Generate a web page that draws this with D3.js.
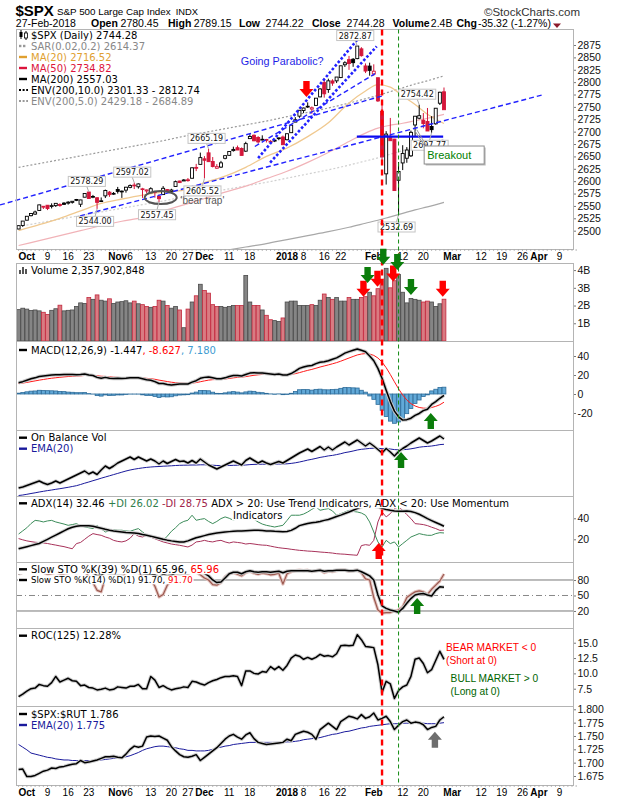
<!DOCTYPE html>
<html>
<head>
<meta charset="utf-8">
<title>$SPX</title>
<script src="https://d3js.org/d3.v7.min.js"></script>
<style>
  body { margin: 0; background: #fff; }
  text { white-space: pre; }
</style>
</head>
<body>
<div id="chart"></div>
<script>
const WIDTH = 620
const HEIGHT = 800
const LEFT = 16      // bord gauche des panneaux
const RIGHT = 573    // bord droit, libellés d'axe à droite
const X0 = 18.6      // centre de la première séance
const STEP = 4.13    // largeur d'une séance
const RED = '#d4163a'

// séances affichées
const DAYS = `2017-09-28 2017-09-29 2017-10-02 2017-10-03 2017-10-04 2017-10-05 2017-10-06
2017-10-09 2017-10-10 2017-10-11 2017-10-12 2017-10-13 2017-10-16 2017-10-17 2017-10-18 2017-10-19 2017-10-20
2017-10-23 2017-10-24 2017-10-25 2017-10-26 2017-10-27 2017-10-30 2017-10-31 2017-11-01 2017-11-02 2017-11-03
2017-11-06 2017-11-07 2017-11-08 2017-11-09 2017-11-10 2017-11-13 2017-11-14 2017-11-15 2017-11-16 2017-11-17
2017-11-20 2017-11-21 2017-11-22 2017-11-24 2017-11-27 2017-11-28 2017-11-29 2017-11-30 2017-12-01
2017-12-04 2017-12-05 2017-12-06 2017-12-07 2017-12-08 2017-12-11 2017-12-12 2017-12-13 2017-12-14 2017-12-15
2017-12-18 2017-12-19 2017-12-20 2017-12-21 2017-12-22 2017-12-26 2017-12-27 2017-12-28 2017-12-29
2018-01-02 2018-01-03 2018-01-04 2018-01-05 2018-01-08 2018-01-09 2018-01-10 2018-01-11 2018-01-12
2018-01-16 2018-01-17 2018-01-18 2018-01-19 2018-01-22 2018-01-23 2018-01-24 2018-01-25 2018-01-26
2018-01-29 2018-01-30 2018-01-31 2018-02-01 2018-02-02 2018-02-05 2018-02-06 2018-02-07 2018-02-08 2018-02-09
2018-02-12 2018-02-13 2018-02-14 2018-02-15 2018-02-16 2018-02-20 2018-02-21 2018-02-22 2018-02-23
2018-02-26 2018-02-27`.trim().split(/\s+/)
// séances vides à droite de l'axe
const FUTURE_DAYS = `2018-02-28 2018-03-01 2018-03-02 2018-03-05 2018-03-06 2018-03-07 2018-03-08 2018-03-09
2018-03-12 2018-03-13 2018-03-14 2018-03-15 2018-03-16 2018-03-19 2018-03-20 2018-03-21 2018-03-22 2018-03-23
2018-03-26 2018-03-27 2018-03-28 2018-03-29 2018-04-02 2018-04-03 2018-04-04 2018-04-05 2018-04-06
2018-04-09 2018-04-10 2018-04-11 2018-04-12 2018-04-13`.trim().split(/\s+/)

const PREV_CLOSE = 2507.04
const OPEN = [
  2503.4, 2510.4, 2521.2, 2530.3, 2533.5, 2540.9, 2547.4, 2551.4, 2550.0, 2550.6,
  2552.9, 2555.7, 2555.6, 2557.2, 2562.9, 2553.4, 2567.6, 2578.1, 2568.7, 2566.5,
  2560.1, 2570.3, 2577.8, 2575.0, 2583.2, 2579.5, 2581.9, 2587.5, 2592.1, 2588.7,
  2584.0, 2580.2, 2576.5, 2577.8, 2569.4, 2572.9, 2582.9, 2579.5, 2589.2, 2600.3,
  2600.4, 2602.7, 2605.9, 2627.8, 2633.9, 2645.1, 2657.2, 2639.8, 2626.2, 2628.4,
  2646.2, 2652.2, 2661.7, 2667.6, 2665.9, 2660.6, 2685.9, 2692.7, 2688.2, 2683.0,
  2684.2, 2679.1, 2682.1, 2686.1, 2689.2, 2683.7, 2697.9, 2719.3, 2731.3, 2742.7,
  2751.2, 2745.6, 2753.0, 2770.2, 2799.0, 2785.0, 2802.4, 2802.6, 2809.2, 2835.1,
  2845.4, 2846.2, 2847.5, 2867.2, 2832.7, 2832.4, 2816.5, 2808.9, 2741.1, 2614.8,
  2691.0, 2685.0, 2601.8, 2636.8, 2646.3, 2651.2, 2713.5, 2727.1, 2723.0, 2720.5,
  2710.4, 2715.8, 2757.4, 2780.45]
const HIGH = [
  2510.8, 2519.4, 2529.2, 2535.1, 2540.5, 2552.5, 2549.4, 2551.8, 2555.2, 2555.2,
  2555.3, 2557.6, 2559.5, 2559.7, 2564.1, 2562.4, 2575.4, 2578.3, 2572.2, 2567.4,
  2567.1, 2583.0, 2580.0, 2578.1, 2588.4, 2581.1, 2588.4, 2593.4, 2597.0, 2595.5,
  2586.5, 2583.0, 2587.7, 2579.7, 2572.8, 2590.1, 2584.0, 2584.6, 2601.2, 2600.9,
  2604.2, 2606.4, 2627.7, 2634.9, 2657.7, 2650.6, 2665.2, 2648.7, 2634.4, 2641.0,
  2651.7, 2660.3, 2669.7, 2671.9, 2668.1, 2679.6, 2695.0, 2694.4, 2691.0, 2692.6,
  2685.4, 2682.7, 2685.6, 2687.7, 2692.1, 2695.9, 2714.4, 2729.3, 2743.5, 2748.5,
  2759.1, 2750.8, 2767.6, 2787.9, 2807.5, 2807.0, 2805.8, 2810.3, 2833.0, 2842.2,
  2853.0, 2848.6, 2872.9, 2870.6, 2837.8, 2839.3, 2836.0, 2808.9, 2763.4, 2701.0,
  2727.7, 2685.3, 2638.7, 2672.6, 2668.8, 2702.1, 2731.5, 2754.4, 2737.6, 2747.8,
  2731.3, 2747.8, 2780.6, 2789.15]
const LOW = [
  2502.9, 2507.7, 2520.4, 2528.9, 2531.8, 2540.0, 2543.8, 2541.6, 2544.9, 2547.9,
  2548.3, 2552.1, 2552.6, 2554.7, 2559.7, 2547.9, 2567.6, 2564.3, 2565.6, 2544.0,
  2559.8, 2565.9, 2568.3, 2572.0, 2574.9, 2566.2, 2576.8, 2585.7, 2584.1, 2585.0,
  2566.3, 2575.6, 2576.5, 2566.6, 2557.45, 2572.9, 2577.6, 2578.2, 2589.2, 2596.2,
  2600.4, 2598.9, 2605.4, 2620.3, 2633.9, 2605.5, 2639.0, 2627.7, 2624.8, 2626.5,
  2644.1, 2651.5, 2659.8, 2662.9, 2652.0, 2659.1, 2685.9, 2680.7, 2676.1, 2682.4,
  2678.1, 2678.0, 2678.9, 2682.7, 2673.6, 2682.4, 2697.8, 2719.1, 2727.9, 2737.6,
  2747.9, 2736.1, 2752.8, 2769.6, 2768.6, 2778.4, 2792.6, 2798.1, 2808.1, 2830.6,
  2824.8, 2830.9, 2846.2, 2851.5, 2818.3, 2813.0, 2812.7, 2760.0, 2638.2, 2593.1,
  2681.3, 2580.6, 2532.7, 2622.4, 2637.1, 2648.9, 2689.8, 2725.1, 2706.8, 2701.3,
  2697.8, 2714.0, 2753.8, 2744.2]
const CLOSE = [
  2510.1, 2519.4, 2529.1, 2534.6, 2537.7, 2552.1, 2549.3, 2544.7, 2550.6, 2555.2,
  2550.9, 2553.2, 2557.6, 2559.4, 2561.3, 2562.1, 2575.2, 2565.0, 2569.1, 2557.2,
  2560.4, 2581.1, 2572.8, 2575.3, 2579.4, 2579.9, 2587.8, 2591.1, 2590.6, 2594.4,
  2584.6, 2582.3, 2584.8, 2578.9, 2564.6, 2585.6, 2578.9, 2582.1, 2599.0, 2597.1,
  2602.4, 2601.4, 2627.0, 2626.1, 2647.6, 2642.2, 2639.4, 2629.6, 2629.3, 2637.0,
  2651.5, 2660.0, 2664.1, 2662.9, 2652.0, 2675.8, 2690.2, 2681.5, 2679.3, 2684.6,
  2683.3, 2680.5, 2682.6, 2687.5, 2673.6, 2695.8, 2713.1, 2724.0, 2743.2, 2747.7,
  2751.3, 2748.2, 2767.6, 2786.2, 2776.4, 2802.6, 2798.0, 2810.3, 2833.0, 2839.1,
  2837.5, 2839.3, 2872.9, 2853.5, 2822.4, 2823.8, 2822.0, 2762.1, 2648.9, 2695.1,
  2681.7, 2581.0, 2619.6, 2656.0, 2662.9, 2698.6, 2731.2, 2732.2, 2716.3, 2701.3,
  2704.0, 2747.3, 2779.6, 2744.28]
// volume en milliards
const VOLUME = [
  1.77, 1.85, 1.80, 1.72, 1.75, 1.70, 1.62, 1.50, 1.73, 1.82,
  2.02, 1.70, 1.73, 1.75, 1.95, 2.15, 2.12, 2.45, 2.35, 2.60,
  2.30, 2.25, 2.38, 2.12, 2.20, 2.22, 2.27, 2.15, 2.25, 2.10,
  2.05, 1.95, 1.90, 1.95, 2.30, 2.25, 2.00, 1.85, 1.95, 1.75,
  0.75, 1.80, 2.20, 2.55, 3.20, 2.85, 2.70, 2.05, 1.95, 1.95,
  1.90, 1.95, 2.00, 2.00, 2.00, 3.70, 2.20, 2.00, 2.00, 1.75,
  1.45, 1.20, 1.15, 1.10, 1.30, 2.20, 2.25, 2.25, 2.00, 2.00,
  2.00, 2.05, 2.00, 2.30, 2.65, 2.45, 2.35, 2.45, 2.25, 2.25,
  2.45, 2.35, 2.35, 2.45, 2.50, 2.75, 2.55, 2.95, 3.40, 4.10,
  3.00, 3.40, 3.75, 2.75, 2.15, 2.40, 2.35, 2.30, 2.20, 2.25,
  2.20, 1.95, 2.10, 2.358]

// moyennes mobiles et enveloppes, lues toutes les quelques séances
const OV_IDX = [0, 5, 10, 15, 20, 25, 30, 35, 40, 45, 50, 55, 60, 65, 70, 75, 80, 84, 87, 90, 93, 96, 99, 103]
const MA20 = [2500, 2512, 2525, 2540, 2555, 2564, 2572, 2578, 2582, 2597, 2610, 2628, 2650, 2667, 2690, 2718, 2758, 2782, 2795, 2790, 2772, 2755, 2735, 2716.52]
const MA50 = [2470, 2480, 2490, 2500, 2510, 2519, 2527, 2540, 2552, 2565, 2578, 2590, 2605, 2620, 2638, 2658, 2680, 2697, 2707, 2713, 2717, 2722, 2727, 2734.82]
const MA200 = [2389, 2396, 2403, 2410, 2417, 2424, 2431, 2438, 2446, 2453, 2460, 2467, 2474, 2482, 2490, 2498, 2507, 2515, 2521, 2528, 2535, 2542, 2548, 2557.03]
const ENV10_UP = [2627.9, 2635.6, 2643.3, 2651, 2658.7, 2666.4, 2674.1, 2681.8, 2690.6, 2698.3, 2706, 2713.7, 2721.4, 2730.2, 2739, 2747.8, 2757.7, 2766.5, 2773.1, 2780.8, 2788.5, 2796.2, 2802.8, 2812.74]
const ENV5_UP = [2508.5, 2515.8, 2523.2, 2530.5, 2537.9, 2545.2, 2552.6, 2559.9, 2568.3, 2575.7, 2583, 2590.4, 2597.7, 2606.1, 2614.5, 2622.9, 2632.4, 2640.8, 2647.1, 2654.4, 2661.8, 2669.1, 2675.4, 2684.89]

const MACD = [
  11.9, 13, 14.5, 16, 17, 18.5, 19, 19.5, 20, 20.3,
  20.3, 20.5, 20.4, 20.5, 20.3, 20.5, 21, 20, 19.5, 17.5,
  16.5, 17.5, 16.5, 16.3, 16.5, 16.3, 16.6, 17, 17, 17,
  16, 15, 14.5, 13, 11, 11, 10, 9.5, 10, 10.5,
  10.5, 10.5, 12.5, 14, 16.5, 17.5, 18, 17, 16, 16,
  17, 18.5, 19.5, 19.5, 19, 20.5, 22, 22.5, 22, 22,
  21.5, 21, 20.5, 21, 20, 20, 21.5, 24, 27, 28.5,
  29.5, 30, 32, 33.5, 34, 35, 36.5, 38, 40.5, 43,
  44.6, 46, 47.4, 46, 44.5, 40, 35, 27, 16.5, 4,
  -8, -18, -24, -27.5, -27, -25.5, -22.5, -20.5, -17.5, -16,
  -11, -8, -4.5, -1.447]
const SIGNAL = [
  11, 11.5, 12.2, 13, 13.8, 14.6, 15.3, 16, 16.6, 17.1,
  17.6, 18, 18.4, 18.7, 18.9, 19.1, 19.5, 19.6, 19.6, 19.2,
  18.7, 18.5, 18.1, 17.7, 17.5, 17.3, 17.2, 17.1, 17.1, 17.1,
  16.9, 16.5, 16.1, 15.5, 14.6, 13.9, 13.1, 12.4, 11.9, 11.6,
  11.4, 11.2, 11.5, 12, 12.9, 13.8, 14.6, 15.1, 15.3, 15.4,
  15.8, 16.4, 17, 17.5, 17.8, 18.3, 19, 19.7, 20.2, 20.6,
  20.8, 20.9, 20.8, 20.9, 20.7, 20.56, 20.75, 21.4, 22.52, 23.72,
  24.88, 25.9, 27.12, 28.4, 29.52, 30.62, 31.8, 33.04, 34.53, 36.22,
  37.9, 39.52, 41.1, 42.08, 42.56, 42.05, 40.64, 37.91, 33.63, 27.7,
  20.56, 12.85, 5.48, -1.12, -6.3, -10.14, -12.61, -14.19, -14.85, -15.08,
  -14.26, -13.01, -11.3, -8.627]
const HIST = [
  0.9, 1.5, 2.3, 3, 3.2, 3.9, 3.7, 3.5, 3.4, 3.2,
  2.7, 2.5, 2, 1.8, 1.4, 1.4, 1.5, 0.4, -0.1, -1.7,
  -2.2, -1, -1.6, -1.4, -1, -1, -0.6, -0.1, -0.1, -0.1,
  -0.9, -1.5, -1.6, -2.5, -3.6, -2.9, -3.1, -2.9, -1.9, -1.1,
  -0.9, -0.7, 1, 2, 3.6, 3.7, 3.4, 1.9, 0.7, 0.6,
  1.2, 2.1, 2.5, 2, 1.2, 2.2, 3, 2.8, 1.8, 1.4,
  0.7, 0.1, -0.3, 0.1, -0.7, -0.56, 0.75, 2.6, 4.48, 4.78,
  4.62, 4.1, 4.88, 5.1, 4.48, 4.38, 4.7, 4.96, 5.97, 6.78,
  6.7, 6.48, 6.3, 3.92, 1.94, -2.05, -5.64, -10.91, -17.13, -23.7,
  -28.56, -30.85, -29.48, -26.38, -20.7, -15.36, -9.89, -6.31, -2.65, -0.92,
  3.26, 5.01, 6.8, 7.18]
// on balance volume (milliards, origine arbitraire)
const OBV = [
  6, 6.5, 7.25, 8, 8.75, 9.5, 8.5, 7.75, 8.5, 9.5,
  8.5, 9.5, 10.5, 11.5, 12.5, 13.5, 14.5, 13, 14, 12.75,
  15, 17, 15.75, 17, 18.5, 19.5, 20.5, 21.5, 20.25, 21.5,
  20.5, 19.5, 20.5, 19.5, 18, 19.5, 18.25, 19.25, 20.25, 19.25,
  19.5, 18.5, 19.75, 18.5, 20.5, 19, 17.5, 16.5, 15.5, 16.5,
  17.5, 18.5, 19.5, 18.5, 17.5, 19.75, 21, 19.75, 18.5, 19.5,
  18.5, 17.75, 18.5, 19.25, 18.5, 19.75, 21, 22.25, 23.5, 24.5,
  25.5, 24.25, 25.5, 26.75, 25, 26.5, 25, 26.5, 27.75, 29,
  27.5, 28.75, 30, 28.5, 27, 28.5, 27, 25.25, 23.5, 25.75,
  24, 22, 24.25, 25.75, 27, 28.5, 29.75, 31, 29.75, 28.5,
  29.5, 30.75, 32, 30.5]
const OBV_EMA = [
  2.25, 2.5, 2.85, 3.25, 3.6, 4, 4.35, 4.7, 5, 5.35,
  5.65, 6, 6.35, 6.75, 7.15, 7.75, 8.4, 9, 9.65, 10.25,
  10.9, 11.5, 12.1, 12.7, 13.3, 13.9, 14.5, 15, 15.4, 15.75,
  16.05, 16.3, 16.5, 16.65, 16.75, 16.9, 17, 17.1, 17.25, 17.35,
  17.4, 17.45, 17.5, 17.5, 17.6, 17.6, 17.5, 17.4, 17.25, 17.2,
  17.2, 17.25, 17.35, 17.4, 17.4, 17.5, 17.7, 17.8, 17.85, 17.9,
  17.9, 17.9, 17.9, 18, 18, 18.1, 18.3, 18.6, 19, 19.45,
  19.95, 20.35, 20.8, 21.3, 21.65, 22.05, 22.3, 22.7, 23.15, 23.7,
  24.05, 24.5, 25, 25.35, 25.55, 25.8, 25.9, 25.85, 25.65, 25.7,
  25.5, 25.2, 25.1, 25.15, 25.3, 25.6, 25.95, 26.4, 26.65, 26.8,
  27, 27.3, 27.7, 27.85]
const ADX = [
  11, 12, 13, 14, 15, 16, 18, 20, 22, 24,
  26, 28, 30, 31.5, 32.5, 33, 33, 33, 32.5, 31.5,
  30.5, 29.5, 28.6, 28, 27.5, 27, 26.5, 26.3, 26, 25.5,
  24.5, 23.8, 23, 22, 21, 20, 19.2, 18.5, 18, 17.5,
  17.4, 18.5, 20, 21.5, 22.5, 23.5, 24.5, 25.3, 26, 26.5,
  27, 27.3, 27.6, 27.8, 28, 28.2, 28.4, 28.5, 28.5, 28.3,
  28, 27.8, 27.6, 27.5, 27.3, 27.5, 28.5, 30.5, 33, 34,
  35, 35.7, 36.2, 37, 38, 38.8, 40.2, 41.7, 43, 44.5,
  46, 47.6, 49.2, 50.8, 52.4, 52.4, 51.5, 50.8, 49.5, 48.3,
  47.6, 47, 46.7, 46.8, 47, 46.5, 45.4, 43.8, 41.8, 39.7,
  37.8, 36, 34.3, 32.46]
const PLUS_DI = [
  25, 28, 31, 35, 38, 37.5, 36.5, 37.5, 38, 36.5,
  35.5, 34.5, 33.3, 34, 34.9, 33, 31.7, 31, 30.2, 33.3,
  30, 27, 28, 29, 28.6, 28.6, 28, 27.6, 29, 30.2,
  27, 24, 23, 22.2, 20.5, 19, 23, 27.6, 31, 34.9,
  37, 38.1, 42.9, 38.1, 39, 39.7, 37, 34.9, 37, 39.7,
  41.3, 40, 38.1, 40, 42.9, 41.3, 41.3, 39, 36.5, 34.5,
  33.3, 32.5, 31.7, 32.5, 33.3, 38, 42.9, 42.9, 42.9, 44,
  46, 48.5, 50.8, 47.6, 48.5, 49.2, 47, 42.9, 44.4, 46,
  47.6, 46.5, 46, 45, 42.9, 36.5, 27, 17.5, 12.7, 19,
  15.9, 17.5, 12.7, 15.9, 19, 22.2, 23.8, 25.4, 24.5, 23.8,
  23.8, 25.4, 26.3, 26.02]
const MINUS_DI = [
  20.7, 19.5, 18.5, 17.8, 17.2, 16.9, 16.5, 16, 15.2, 14.5,
  13.7, 13, 12, 11, 15.9, 17, 20, 23, 25.4, 24.5,
  23.8, 22.2, 21, 19, 18, 17.5, 18.5, 21, 25.4, 23,
  22.2, 23.8, 22, 20.5, 19, 17.5, 16.5, 15.5, 14.9, 14.3,
  13.5, 12.7, 14.5, 17.5, 18, 19, 18, 17.5, 18.5, 19,
  17.5, 16.5, 17.5, 17, 16.5, 15.5, 16, 15.5, 14.9, 14.5,
  14.3, 13.5, 12.7, 12, 11.5, 11.1, 10.5, 10, 9.5, 9.2,
  8.8, 8.6, 8.3, 7.9, 7.6, 7.3, 6.9, 6.3, 6, 5.8,
  5.4, 5.1, 4.8, 14, 14.9, 14.3, 19, 36.5, 46, 41.3,
  44.4, 49.2, 50.8, 47.6, 43.5, 39.7, 34.9, 34.5, 34, 33,
  31.5, 30.2, 28.5, 28.75]
const STO_K39 = [
  92, 95, 97, 98, 98, 99, 97, 95, 96, 97,
  96, 96, 97, 97, 97, 97, 99, 95, 95, 88,
  89, 96, 93, 93, 94, 93, 96, 97, 96, 97,
  93, 92, 92, 90, 85, 91, 88, 89, 94, 93,
  94, 94, 97, 97, 97, 93, 88, 80, 75, 76,
  84, 92, 95, 95, 92, 96, 98, 96, 95, 96,
  96, 95, 96, 97, 94, 97, 98, 98, 98, 98,
  98, 97, 98, 99, 97, 98, 98, 99, 99, 99,
  98, 98, 99, 96, 92, 88, 80, 51, 30, 25,
  22, 20, 17.5, 25, 35, 44, 51, 53, 54, 51,
  49, 60, 67, 65.96]
const STO_K14 = [
  90, 95, 97, 98, 98, 99, 95, 90, 92, 95,
  92, 92, 94, 95, 94, 95, 99, 85, 75, 60,
  57, 85, 80, 82, 86, 85, 95, 96, 94, 96,
  86, 80, 82, 68, 47, 52, 70, 80, 92, 90,
  93, 92, 97, 95, 90, 84, 80, 71, 70, 75,
  86, 92, 94, 91, 88, 94, 97, 93, 91, 93,
  92, 90, 91, 93, 72, 92, 96, 98, 99, 98,
  99, 96, 98, 99, 94, 97, 96, 98, 99, 99,
  97, 98, 99, 94, 82, 80, 46, 22, 16, 17,
  17, 20, 22, 28, 46, 52, 57, 59, 57, 52,
  62, 70, 78, 91.7]
const ROC = [
  6.2, 6.6, 7.1, 7.5, 7.6, 8.2, 8.0, 7.9, 8.5, 9.5,
  8.6, 8.9, 9.2, 8.8, 8.7, 8.0, 8.1, 7.7, 7.6, 7.3,
  7.4, 7.6, 7.3, 7.4, 7.8, 7.7, 7.6, 7.9, 7.9, 8.2,
  7.5, 7.5, 9.5, 8.9, 7.7, 8.0, 7.6, 7.3, 7.5, 7.6,
  7.8, 7.7, 8.7, 8.6, 8.3, 8.1, 8.5, 8.8, 9.0, 9.3,
  9.5, 9.5, 9.6, 9.5, 8.0, 10.4, 10.4, 10.0, 9.9, 10.3,
  10.2, 11.1, 10.6, 11.1, 10.5, 11.3, 12.5, 13.0, 12.8, 12.3,
  12.6, 12.3, 12.6, 13.1, 12.8, 12.9, 12.7, 13.2, 14.5, 14.6,
  14.5, 14.6, 16.3, 15.5, 14.4, 14.3, 14.2, 11.4, 6.9, 8.7,
  8.3, 5.9, 7.2, 7.8, 8.1, 9.5, 12.3, 12.5, 11.6, 10.1,
  10.6, 12.1, 13.6, 12.28]
const RATIO = [
  1.687, 1.688, 1.674, 1.674, 1.676, 1.680, 1.684, 1.686, 1.690, 1.689,
  1.692, 1.693, 1.695, 1.697, 1.698, 1.704, 1.700, 1.701, 1.703, 1.705,
  1.708, 1.711, 1.711, 1.712, 1.710, 1.709, 1.716, 1.725, 1.731, 1.729,
  1.731, 1.748, 1.750, 1.749, 1.750, 1.746, 1.742, 1.730, 1.722, 1.715,
  1.711, 1.710, 1.712, 1.715, 1.704, 1.710, 1.716, 1.722, 1.728, 1.736,
  1.744, 1.750, 1.753, 1.748, 1.744, 1.752, 1.756, 1.745, 1.738, 1.736,
  1.734, 1.735, 1.736, 1.737, 1.738, 1.744, 1.741, 1.753, 1.756, 1.759,
  1.757, 1.753, 1.744, 1.762, 1.768, 1.774, 1.768, 1.762, 1.777, 1.782,
  1.787, 1.785, 1.782, 1.790, 1.783, 1.786, 1.793, 1.780, 1.783, 1.787,
  1.777, 1.762, 1.770, 1.777, 1.780, 1.774, 1.776, 1.775, 1.771, 1.762,
  1.766, 1.768, 1.780, 1.786]
const RATIO_EMA = [
  1.734, 1.729, 1.724, 1.718, 1.716, 1.714, 1.712, 1.710, 1.709, 1.707,
  1.706, 1.705, 1.705, 1.704, 1.704, 1.704, 1.704, 1.704, 1.704, 1.704,
  1.705, 1.706, 1.707, 1.708, 1.709, 1.710, 1.711, 1.713, 1.716, 1.719,
  1.723, 1.726, 1.728, 1.730, 1.731, 1.731, 1.730, 1.729, 1.728, 1.726,
  1.725, 1.723, 1.723, 1.722, 1.722, 1.722, 1.723, 1.725, 1.728, 1.729,
  1.731, 1.732, 1.734, 1.735, 1.736, 1.737, 1.738, 1.738, 1.738, 1.738,
  1.738, 1.738, 1.738, 1.738, 1.738, 1.739, 1.739, 1.740, 1.741, 1.743,
  1.744, 1.745, 1.746, 1.747, 1.749, 1.751, 1.753, 1.754, 1.756, 1.758,
  1.759, 1.761, 1.763, 1.765, 1.766, 1.768, 1.769, 1.770, 1.771, 1.772,
  1.773, 1.773, 1.773, 1.774, 1.774, 1.774, 1.774, 1.774, 1.774, 1.773,
  1.773, 1.773, 1.774, 1.775]

// libellés de l'axe des dates
const TICK_DAYS = ['2017-10-02', '2017-10-09', '2017-10-16', '2017-10-23', '2017-11-01', '2017-11-06', '2017-11-13',
  '2017-11-20', '2017-11-27', '2017-12-01', '2017-12-11', '2017-12-18', '2018-01-02', '2018-01-08', '2018-01-16',
  '2018-01-22', '2018-02-01', '2018-02-12', '2018-02-20', '2018-03-01', '2018-03-12', '2018-03-19', '2018-03-26',
  '2018-04-02', '2018-04-09']
const TICK_LABELS = ['Oct', '9', '16', '23', 'Nov', '6', '13', '20', '27', 'Dec', '11', '18', '2018', '8', '16',
  '22', 'Feb', '12', '20', 'Mar', '12', '19', '26', 'Apr', '9']
const PRICE_TICKS = [2500, 2525, 2550, 2575, 2600, 2625, 2650, 2675, 2700, 2725, 2750, 2775, 2800, 2825, 2850, 2875]
const VOLUME_TICKS = [1, 2, 3, 4]
const MACD_TICKS = [-20, 0, 20, 40]
const ADX_TICKS = [20, 40]
const STO_TICKS = [20, 50, 80]
const ROC_TICKS = [7.5, 10, 12.5, 15]
const RATIO_TICKS = [1.675, 1.7, 1.725, 1.75, 1.775, 1.8]

// plus hauts / plus bas annotés
const ANN_DAYS = ['2017-10-23', '2017-10-25', '2017-11-07', '2017-11-15', '2017-12-01', '2017-12-04', '2018-01-26', '2018-02-09', '2018-02-16', '2018-02-22']
const ANN_VALUES = [2578.29, 2544.00, 2597.02, 2557.45, 2605.52, 2665.19, 2872.87, 2532.69, 2754.42, 2697.77]
const ANN_SIDE = ['high', 'low', 'high', 'low', 'low', 'high', 'high', 'low', 'high', 'low']
// lignes de tendance : séance début, prix, séance fin, prix
const TRENDS = [[-4.5, 2552, 88.2, 2772.5], [14.9, 2530, 127, 2774.5], [57.2, 2670, 86.3, 2817]]
const STEEP_TRENDS = [[58.0, 2646.5, 82.7, 2892.5], [60.9, 2637.6, 86.7, 2872.2]]
const BREAKOUT_LEVEL = [81.9, 102.8, 2690]
const EVENT_DAYS = ['2018-02-05', '2018-02-09']
// flèches : panneau, séance, valeur de la pointe, sens, type
const ARROWS = [
  ['price', 69.7, 2770, 'down', 'sell'],
  ['volume', 83.5, 2.5, 'down', 'sell'], ['volume', 86.9, 3.06, 'down', 'sell'],
  ['volume', 90.7, 3.35, 'down', 'sell'], ['volume', 102.7, 2.5, 'down', 'sell'],
  ['volume', 84.5, 3.27, 'down', 'buy'], ['volume', 88.3, 4.3, 'down', 'buy'],
  ['volume', 91.7, 4.0, 'down', 'buy'], ['volume', 95, 2.6, 'down', 'buy'],
  ['macd', 99.8, -20, 'up', 'buy'], ['obv', 92.6, 24, 'up', 'buy'],
  ['adx', 87.2, 16.5, 'up', 'sell'], ['sto', 96.5, 45.2, 'up', 'buy'],
  ['ratio', 100.8, 1.758, 'up', 'flat']
]
const ARROW_COLORS = {sell: '#ff0000', buy: '#0b7d0b', flat: '#6e6e6e'}

// ---------------------------------------------------------------
const svg = d3.select('#chart').append('svg')
  .attr('width', WIDTH).attr('height', HEIGHT)
  .attr('font-family', 'DejaVu Sans')
svg.append('rect').attr('width', WIDTH).attr('height', HEIGHT).attr('fill', '#fff')

const ALL_DAYS = DAYS.concat(FUTURE_DAYS)
const dayPos = new Map(ALL_DAYS.map((d, i) => [d, i]))
const x = d3.scaleLinear().domain([0, ALL_DAYS.length - 1]).range([X0, X0 + STEP * (ALL_DAYS.length - 1)])
const xDay = d => x(dayPos.get(d))

const PANELS = [
  {key: 'price', top: 29.5, bottom: 249, domain: [2463, 2906.3]},
  {key: 'volume', top: 263, bottom: 341, domain: [0, 4.4]},
  {key: 'macd', top: 341, bottom: 430, domain: [-37.9, 55.8]},
  {key: 'obv', top: 430, bottom: 496, domain: [2, 35]},
  {key: 'adx', top: 496, bottom: 562, domain: [-1.6, 61.2]},
  {key: 'sto', top: 562, bottom: 628, domain: [-12.9, 114.8]},
  {key: 'roc', top: 628, bottom: 706, domain: [4.68, 17.4]},
  {key: 'ratio', top: 706, bottom: 785, domain: [1.6581, 1.8062]}
]
const panel = {}
PANELS.forEach(p => {
  const y = d3.scaleLinear().domain(p.domain).range([p.bottom, p.top])
  svg.append('clipPath').attr('id', 'clip-' + p.key).append('rect')
    .attr('x', LEFT).attr('y', p.top).attr('width', RIGHT - LEFT).attr('height', p.bottom - p.top)
  const g = svg.append('g')
  const plot = g.append('g').attr('clip-path', `url(#clip-${p.key})`)
  panel[p.key] = {y, g, plot, top: p.top, bottom: p.bottom}
})

function rightAxis(key, values, fmt) {
  const p = panel[key]
  const ax = p.g.append('g').attr('transform', `translate(${RIGHT},0)`)
    .call(d3.axisRight(p.y).tickValues(values).tickSize(3).tickPadding(1.5).tickFormat(fmt))
  ax.select('.domain').remove()
  ax.attr('font-family', 'Liberation Sans').attr('font-size', 10.5)
  ax.selectAll('line').attr('stroke', '#777')
  ax.selectAll('text').attr('fill', '#111')
}

function series(key, values, color, width, halo) {
  const p = panel[key]
  const line = d3.line().x((d, i) => x(i)).y(d => p.y(d))
  if (halo) {
    p.plot.append('path').attr('d', line(values)).attr('fill', 'none')
      .attr('stroke', halo).attr('stroke-width', width + 2).attr('stroke-linejoin', 'round')
  }
  p.plot.append('path').attr('d', line(values)).attr('fill', 'none')
    .attr('stroke', color).attr('stroke-width', width).attr('stroke-linejoin', 'round')
}

function hline(key, value, color, dash) {
  const p = panel[key]
  p.plot.append('line').attr('x1', LEFT).attr('x2', RIGHT)
    .attr('y1', p.y(value)).attr('y2', p.y(value))
    .attr('stroke', color).attr('stroke-width', 1).attr('stroke-dasharray', dash || null)
}

// petites icônes de légende
const icons = {
  line: c => (g, x0, cy) => g.append('line').attr('x1', x0).attr('x2', x0 + 8).attr('y1', cy).attr('y2', cy)
    .attr('stroke', c).attr('stroke-width', 2.4),
  dots: c => (g, x0, cy) => g.append('line').attr('x1', x0).attr('x2', x0 + 9).attr('y1', cy).attr('y2', cy)
    .attr('stroke', c).attr('stroke-width', 2).attr('stroke-dasharray', '2,1.6'),
  sar: c => (g, x0, cy) => [0, 4].forEach(dx => g.append('rect').attr('x', x0 + dx).attr('y', cy - 1.2)
    .attr('width', 2.4).attr('height', 2.4).attr('fill', c)),
  candle: () => (g, x0, cy) => {
    g.append('line').attr('x1', x0 + 2).attr('x2', x0 + 2).attr('y1', cy - 5).attr('y2', cy + 4).attr('stroke', '#000')
    g.append('rect').attr('x', x0 + 0.5).attr('y', cy - 3).attr('width', 3).attr('height', 5).attr('fill', '#000')
    g.append('line').attr('x1', x0 + 7).attr('x2', x0 + 7).attr('y1', cy - 4).attr('y2', cy + 5).attr('stroke', '#000')
    g.append('rect').attr('x', x0 + 5.5).attr('y', cy - 2).attr('width', 3).attr('height', 5).attr('fill', '#fff').attr('stroke', '#000').attr('stroke-width', 0.8)
  },
  bars: () => (g, x0, cy) => [[0, 4], [3, 7], [6, 5]].forEach(([dx, h]) => g.append('rect')
    .attr('x', x0 + dx).attr('y', cy + 4 - h).attr('width', 2).attr('height', h).attr('fill', '#555'))
}

function legend(g, x0, cy, icon, parts, size = 10) {
  const row = g.append('g')
  const bg = row.append('rect').attr('fill', '#fff')
  let tx = x0
  if (icon) { icon(row, x0, cy); tx = x0 + 12 }
  const t = row.append('text').attr('x', tx).attr('y', cy + size * 0.36).attr('font-size', size)
  parts.forEach(([s, c]) => t.append('tspan').attr('fill', c).text(s))
  const w = t.node().getComputedTextLength()
  bg.attr('x', x0 - 1).attr('y', cy - size * 0.55).attr('width', tx + w - x0 + 2).attr('height', size * 1.05)
  return row
}

function arrowPath(cx, tip, dir) {
  const s = dir === 'down' ? -1 : 1
  const pts = [[0, 0], [7, s * 8], [3.2, s * 8], [3.2, s * 16], [-3.2, s * 16], [-3.2, s * 8], [-7, s * 8]]
  return 'M' + pts.map(([dx, dy]) => `${cx + dx},${tip + dy}`).join('L') + 'Z'
}

// ---------------------------------------------------------------
// en-tête
const head = svg.append('g').attr('font-family', 'Liberation Sans').attr('fill', '#000')
head.append('text').attr('x', 15.5).attr('y', 15.5).attr('font-size', 15)
  .attr('font-weight', 'bold').text('$SPX')
const sub = head.append('text').attr('x', 57).attr('y', 15).attr('font-size', 9.8).text('S&P 500 Large Cap Index')
head.append('text').attr('x', 57 + sub.node().getComputedTextLength() + 5).attr('y', 15).attr('font-size', 9.4).text('INDX')
head.append('text').attr('x', 580).attr('y', 16).attr('text-anchor', 'end').attr('font-size', 11.5)
  .attr('fill', '#333').text('©StockCharts.com')
const HEAD_ROW = [['27-Feb-2018', 15.8, false], ['Open', 91, true], ['2780.45', 120.6, false], ['High', 168, true],
  ['2789.15', 193.7, false], ['Low', 239, true], ['2744.22', 265.6, false], ['Close', 312, true],
  ['2744.28', 346.6, false], ['Volume', 392.5, true], ['2.4B', 430.8, false], ['Chg', 456.5, true],
  ['-35.32 (-1.27%)', 478, false]]
HEAD_ROW.forEach(([s, hx, bold]) => head.append('text').attr('x', hx).attr('y', 27).attr('font-size', 10.5)
  .attr('font-weight', bold ? 'bold' : null).text(s))
head.append('path').attr('d', 'M553,23.5L561,23.5L557,28Z').attr('fill', '#8b1a2b')

// ---------------------------------------------------------------
// panneau des prix
const pp = panel.price
const ovLine = d3.line().x((d, i) => x(OV_IDX[i])).y(d => pp.y(d)).curve(d3.curveMonotoneX)
pp.plot.append('path').attr('d', ovLine(ENV10_UP)).attr('fill', 'none').attr('stroke', '#9a9a9a').attr('stroke-width', 1.2).attr('stroke-dasharray', '2,2')
pp.plot.append('path').attr('d', ovLine(ENV5_UP)).attr('fill', 'none').attr('stroke', '#cfcfcf').attr('stroke-width', 1.2).attr('stroke-dasharray', '2,2')
pp.plot.append('path').attr('d', ovLine(MA200)).attr('fill', 'none').attr('stroke', '#a8a8a8').attr('stroke-width', 1.2)
pp.plot.append('path').attr('d', ovLine(MA50)).attr('fill', 'none').attr('stroke', '#f1b3b8').attr('stroke-width', 1.2)
pp.plot.append('path').attr('d', ovLine(MA20)).attr('fill', 'none').attr('stroke', '#f0c990').attr('stroke-width', 1.3)

const prevClose = i => i === 0 ? PREV_CLOSE : CLOSE[i - 1]
const candleColor = i => CLOSE[i] < prevClose(i) ? RED : '#000'
const candles = pp.plot.append('g').selectAll('g').data(DAYS).join('g')
candles.append('line')
  .attr('x1', (d, i) => x(i)).attr('x2', (d, i) => x(i))
  .attr('y1', (d, i) => pp.y(HIGH[i])).attr('y2', (d, i) => pp.y(LOW[i]))
  .attr('stroke', (d, i) => candleColor(i)).attr('stroke-width', 1)
candles.append('rect')
  .attr('x', (d, i) => x(i) - 1.5).attr('width', 3)
  .attr('y', (d, i) => pp.y(Math.max(OPEN[i], CLOSE[i])))
  .attr('height', (d, i) => Math.max(0.8, Math.abs(pp.y(OPEN[i]) - pp.y(CLOSE[i]))))
  .attr('fill', (d, i) => CLOSE[i] > OPEN[i] ? '#fff' : candleColor(i))
  .attr('stroke', (d, i) => candleColor(i)).attr('stroke-width', 0.9)

rightAxis('price', PRICE_TICKS, d => String(d))

// lignes de tendance dessinées à la main
const TREND_BLUE = '#2222ff'
TRENDS.forEach(([d0, p0, d1, p1]) => pp.g.append('line')
  .attr('x1', x(d0)).attr('y1', pp.y(p0)).attr('x2', x(d1)).attr('y2', pp.y(p1))
  .attr('stroke', TREND_BLUE).attr('stroke-width', 1.4).attr('stroke-dasharray', '5,3'))
STEEP_TRENDS.forEach(([d0, p0, d1, p1]) => pp.g.append('line')
  .attr('x1', x(d0)).attr('y1', pp.y(p0)).attr('x2', x(d1)).attr('y2', pp.y(p1))
  .attr('stroke', TREND_BLUE).attr('stroke-width', 2.6).attr('stroke-dasharray', '2.6,2'))
pp.g.append('line').attr('x1', x(BREAKOUT_LEVEL[0])).attr('x2', x(BREAKOUT_LEVEL[1]))
  .attr('y1', pp.y(BREAKOUT_LEVEL[2])).attr('y2', pp.y(BREAKOUT_LEVEL[2]))
  .attr('stroke', '#0a0af0').attr('stroke-width', 2.4)

pp.g.append('text').attr('x', x(53.8)).attr('y', pp.y(2834)).attr('font-family', 'Liberation Sans')
  .attr('font-size', 10.8).attr('fill', '#1e1ee6').text('Going Parabolic?')
pp.g.append('ellipse').attr('cx', x(34.4)).attr('cy', pp.y(2566.8)).attr('rx', 16).attr('ry', 6.5)
  .attr('fill', 'none').attr('stroke', '#555').attr('stroke-width', 2)
pp.g.append('text').attr('x', x(39.2)).attr('y', pp.y(2553)).attr('font-family', 'Liberation Sans')
  .attr('font-size', 10).attr('fill', '#555').text("'bear trap'")

// étiquettes des plus hauts / plus bas
ANN_DAYS.forEach((d, k) => {
  const px = xDay(d), py = pp.y(ANN_VALUES[k])
  const above = ANN_SIDE[k] === 'high'
  const cy = above ? py - 10.5 : py + 12.5
  const g = pp.g.append('g')
  const t = g.append('text').attr('x', px - 2).attr('y', cy + 3).attr('text-anchor', 'middle')
    .attr('font-size', 8).attr('fill', '#111').text(ANN_VALUES[k].toFixed(2))
  const w = t.node().getComputedTextLength() + 4
  g.insert('rect', 'text').attr('x', px - 2 - w / 2).attr('y', cy - 5).attr('width', w).attr('height', 10)
    .attr('fill', '#fff').attr('stroke', '#c4c4c4').attr('stroke-width', 1)
  g.insert('line', 'rect').attr('x1', px).attr('y1', py).attr('x2', px - 2).attr('y2', above ? cy + 5 : cy - 5)
    .attr('stroke', '#aaa').attr('stroke-width', 1)
})

// encadré "Breakout"
const bx = x(98.2), by = pp.y(2671)
pp.g.append('line').attr('x1', bx + 1).attr('y1', by + 1).attr('x2', x(95.8)).attr('y2', pp.y(2704)).attr('stroke', '#999')
pp.g.append('line').attr('x1', bx + 3).attr('y1', by + 1).attr('x2', x(96.4)).attr('y2', pp.y(2704)).attr('stroke', '#999')
pp.g.append('rect').attr('x', bx + 1.5).attr('y', by + 1.5).attr('width', 60).attr('height', 18).attr('fill', '#bbb')
pp.g.append('rect').attr('x', bx).attr('y', by).attr('width', 60).attr('height', 18).attr('fill', '#fff').attr('stroke', '#8c8c8c')
pp.g.append('text').attr('x', bx + 3).attr('y', by + 13).attr('font-family', 'Liberation Sans').attr('font-size', 11)
  .attr('fill', '#008000').text('Breakout')

legend(pp.g, 19, 35, icons.candle(), [['$SPX (Daily) 2744.28', '#000']])
legend(pp.g, 19, 46, icons.sar('#999'), [['SAR(0.02,0.2) 2614.37', '#888']])
legend(pp.g, 19, 57, icons.line('#e0a030'), [['MA(20) 2716.52', '#e0a030']])
legend(pp.g, 19, 68, icons.line('#dc143c'), [['MA(50) 2734.82', '#dc143c']])
legend(pp.g, 19, 79, icons.line('#000'), [['MA(200) 2557.03', '#000']])
legend(pp.g, 19, 90, icons.dots('#000'), [['ENV(200,10.0) 2301.33 - 2812.74', '#000']])
legend(pp.g, 19, 101, icons.dots('#999'), [['ENV(200,5.0) 2429.18 - 2684.89', '#888']])

// ---------------------------------------------------------------
// volume
const pv = panel.volume
pv.plot.selectAll('rect').data(VOLUME).join('rect')
  .attr('x', (d, i) => x(i) - 1.9).attr('width', 3.8)
  .attr('y', d => pv.y(d)).attr('height', d => pv.bottom - pv.y(d))
  .attr('fill', (d, i) => CLOSE[i] < prevClose(i) ? '#d97b82' : '#858585')
  .attr('stroke', (d, i) => CLOSE[i] < prevClose(i) ? '#c3283e' : '#4a4a4a').attr('stroke-width', 0.8)
rightAxis('volume', VOLUME_TICKS, d => d + 'B')
legend(pv.g, 19, 270, icons.bars(), [['Volume 2,357,902,848', '#000']])

// MACD
const pm = panel.macd
pm.plot.selectAll('rect').data(HIST).join('rect')
  .attr('x', (d, i) => x(i) - 1.9).attr('width', 3.8)
  .attr('y', d => pm.y(Math.max(0, d))).attr('height', d => Math.abs(pm.y(d) - pm.y(0)))
  .attr('fill', '#62a9d8').attr('stroke', '#2d6c9a').attr('stroke-width', 0.8)
series('macd', SIGNAL, '#ff1a1a', 1)
series('macd', MACD, '#000', 1.5, '#c8c8c8')
rightAxis('macd', MACD_TICKS, d => String(d))
legend(pm.g, 19, 350, icons.line('#000'), [['MACD(12,26,9) -1.447', '#000'], [', -8.627', '#ff0000'], [', 7.180', '#3d9bd1']])

// OBV
series('obv', OBV_EMA, '#1a1a9c', 1)
series('obv', OBV, '#000', 1.5, '#cfcfcf')
legend(panel.obv.g, 19, 437.7, icons.line('#000'), [['On Balance Vol', '#000']])
legend(panel.obv.g, 19, 448.7, icons.line('#1a1a9c'), [['EMA(20)', '#1a1a9c']])

// ADX
series('adx', MINUS_DI, '#a8325a', 1)
series('adx', PLUS_DI, '#3c8c5a', 1)
series('adx', ADX, '#000', 1.5, '#cfcfcf')
rightAxis('adx', ADX_TICKS, d => String(d))
legend(panel.adx.g, 19, 503.3, icons.line('#000'), [['ADX(14) 32.46 ', '#000'], ['+DI 26.02 ', '#2e7d4a'],
  ['-DI 28.75', '#a0244a'], [' ADX > 20: Use Trend Indicators, ADX < 20: Use Momentum', '#000']])
legend(panel.adx.g, 233, 515.7, null, [['Indicators', '#000']])

// stochastiques
hline('sto', 80, '#777')
hline('sto', 20, '#777')
hline('sto', 50, '#888', '6,3,1,3')
series('sto', STO_K14, '#9c5a50', 1.2, '#e4c4c0')
series('sto', STO_K39, '#000', 1.5, '#c8c8c8')
rightAxis('sto', STO_TICKS, d => String(d))
legend(panel.sto.g, 19, 569.3, icons.line('#000'), [['Slow STO %K(39) %D(1) 65.96, ', '#000'], ['65.96', '#ff0000']])
legend(panel.sto.g, 19, 580, icons.line('#000'), [['Slow STO %K(14) %D(1) 91.70, ', '#000'], ['91.70', '#ff0000']], 8.6)

// ROC
series('roc', ROC, '#000', 1.5, '#cfcfcf')
rightAxis('roc', ROC_TICKS, d => d.toFixed(1))
legend(panel.roc.g, 19, 635.7, icons.line('#000'), [['ROC(125) 12.28%', '#000']])
const ROC_NOTES = [['BEAR MARKET < 0', 103.5, 13.6, '#ff0000'], ['(Short at 0)', 103.5, 11.53, '#ff0000'],
  ['BULL MARKET > 0', 104.6, 8.64, '#006400'], ['(Long at 0)', 104.6, 6.47, '#006400']]
ROC_NOTES.forEach(([s, d, v, c]) => panel.roc.g.append('text')
  .attr('x', x(d)).attr('y', panel.roc.y(v))
  .attr('font-family', 'Liberation Sans').attr('font-size', 10.2).attr('fill', c).text(s))

// ratio SPX:RUT
series('ratio', RATIO_EMA, '#1a1a9c', 1)
series('ratio', RATIO, '#000', 1.5, '#cfcfcf')
rightAxis('ratio', RATIO_TICKS, d => d.toFixed(3))
legend(panel.ratio.g, 19, 714, icons.line('#000'), [['$SPX:$RUT 1.786', '#000']])
legend(panel.ratio.g, 19, 725, icons.line('#1a1a9c'), [['EMA(20) 1.775', '#1a1a9c']])

// ---------------------------------------------------------------
// cadres des panneaux
PANELS.forEach(p => svg.append('rect').attr('x', LEFT).attr('y', p.top)
  .attr('width', RIGHT - LEFT).attr('height', p.bottom - p.top)
  .attr('fill', 'none').attr('stroke', '#b4b4b4').attr('stroke-width', 1).attr('shape-rendering', 'crispEdges'))

// axe des dates (sous les prix et en bas)
;[[pp.bottom, 260], [panel.ratio.bottom, 796]].forEach(([yb, ty]) => {
  svg.append('g').selectAll('line').data(ALL_DAYS).join('line')
    .attr('x1', d => xDay(d)).attr('x2', d => xDay(d)).attr('y1', yb).attr('y2', yb + 2)
    .attr('stroke', '#aaa').attr('stroke-width', 0.8)
  svg.append('g').attr('font-family', 'Liberation Sans').attr('font-size', 10)
    .selectAll('text').data(TICK_DAYS).join('text')
    .attr('x', d => xDay(d)).attr('y', ty).attr('text-anchor', 'middle')
    .attr('font-weight', (d, k) => isNaN(+TICK_LABELS[k]) || TICK_LABELS[k].length === 4 ? 'bold' : null)
    .text((d, k) => TICK_LABELS[k])
})

// lignes verticales d'événement
svg.append('line').attr('x1', xDay(EVENT_DAYS[0])).attr('x2', xDay(EVENT_DAYS[0]))
  .attr('y1', pp.top).attr('y2', panel.ratio.bottom)
  .attr('stroke', '#ff0000').attr('stroke-width', 2.4).attr('stroke-dasharray', '6,4')
svg.append('line').attr('x1', xDay(EVENT_DAYS[1])).attr('x2', xDay(EVENT_DAYS[1]))
  .attr('y1', pp.top).attr('y2', panel.ratio.bottom)
  .attr('stroke', '#128a12').attr('stroke-width', 1).attr('stroke-dasharray', '4,3')

// flèches de signal
ARROWS.forEach(([key, d, v, dir, kind]) => svg.append('path')
  .attr('d', arrowPath(x(d), panel[key].y(v), dir)).attr('fill', ARROW_COLORS[kind]))
</script>
</body>
</html>
